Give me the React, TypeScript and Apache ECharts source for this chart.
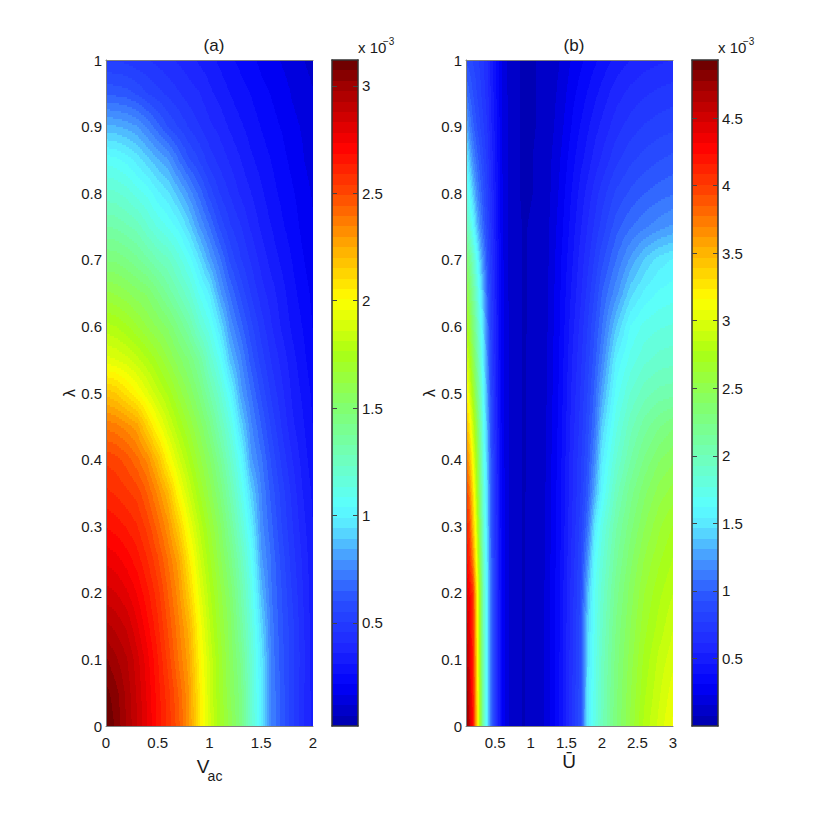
import React, { useEffect, useRef } from "react";
import * as echarts from "echarts";

// ---------- data (values in units of 1e-3) ----------
const lambdaRows = [0, 0.05, 0.1, 0.15, 0.2, 0.25, 0.3, 0.35, 0.4, 0.45, 0.5, 0.55, 0.6, 0.65, 0.7, 0.75, 0.8, 0.85, 0.9, 0.95, 1];
const vacColumns = [0, 0.1, 0.2, 0.3, 0.4, 0.5, 0.6, 0.7, 0.8, 0.9, 1, 1.1, 1.2, 1.3, 1.4, 1.5, 1.6, 1.7, 1.8, 1.9, 2];
const uColumns = [0.09, 0.14, 0.19, 0.24, 0.29, 0.34, 0.39, 0.44, 0.5, 0.6, 0.7, 0.9, 1.2, 1.4, 1.6, 1.7, 1.8, 1.9, 2, 2.2, 2.4, 2.6, 2.8, 3];

const fieldA = [
  [3.12, 3.06, 2.97, 2.88, 2.78, 2.67, 2.57, 2.46, 2.31, 2.08, 1.88, 1.72, 1.6, 1.46, 1.22, 0.98, 0.74, 0.63, 0.52, 0.42, 0.34],
  [3.09, 3.04, 2.96, 2.87, 2.77, 2.66, 2.56, 2.44, 2.3, 2.07, 1.87, 1.71, 1.57, 1.45, 1.21, 0.98, 0.74, 0.63, 0.52, 0.42, 0.34],
  [3.03, 2.98, 2.93, 2.85, 2.75, 2.64, 2.52, 2.39, 2.27, 2.04, 1.86, 1.7, 1.56, 1.42, 1.2, 0.97, 0.73, 0.62, 0.52, 0.43, 0.33],
  [2.94, 2.91, 2.87, 2.79, 2.7, 2.6, 2.48, 2.36, 2.23, 2.0, 1.82, 1.67, 1.54, 1.37, 1.17, 0.93, 0.72, 0.61, 0.52, 0.42, 0.33],
  [2.85, 2.83, 2.79, 2.73, 2.65, 2.56, 2.44, 2.32, 2.15, 1.94, 1.78, 1.64, 1.51, 1.33, 1.13, 0.87, 0.7, 0.6, 0.5, 0.41, 0.33],
  [2.77, 2.75, 2.71, 2.66, 2.59, 2.5, 2.39, 2.27, 2.07, 1.88, 1.73, 1.59, 1.45, 1.28, 1.08, 0.81, 0.69, 0.58, 0.48, 0.4, 0.32],
  [2.68, 2.66, 2.63, 2.59, 2.52, 2.42, 2.31, 2.15, 1.96, 1.81, 1.67, 1.54, 1.38, 1.2, 1.0, 0.77, 0.66, 0.55, 0.46, 0.38, 0.31],
  [2.6, 2.58, 2.55, 2.52, 2.44, 2.33, 2.21, 2.01, 1.86, 1.72, 1.6, 1.47, 1.31, 1.13, 0.92, 0.75, 0.63, 0.53, 0.44, 0.36, 0.3],
  [2.53, 2.51, 2.47, 2.41, 2.33, 2.2, 2.02, 1.88, 1.76, 1.64, 1.53, 1.39, 1.23, 1.05, 0.81, 0.71, 0.59, 0.49, 0.41, 0.34, 0.28],
  [2.38, 2.36, 2.32, 2.27, 2.13, 1.99, 1.87, 1.76, 1.66, 1.56, 1.44, 1.29, 1.14, 0.93, 0.76, 0.65, 0.54, 0.45, 0.37, 0.32, 0.26],
  [2.18, 2.15, 2.08, 2.01, 1.92, 1.83, 1.75, 1.65, 1.56, 1.46, 1.33, 1.2, 1.03, 0.82, 0.7, 0.59, 0.49, 0.42, 0.35, 0.3, 0.25],
  [1.93, 1.91, 1.88, 1.83, 1.77, 1.7, 1.62, 1.54, 1.47, 1.37, 1.22, 1.08, 0.88, 0.76, 0.63, 0.53, 0.45, 0.39, 0.33, 0.28, 0.23],
  [1.78, 1.76, 1.72, 1.67, 1.61, 1.56, 1.51, 1.42, 1.33, 1.2, 1.1, 0.95, 0.78, 0.67, 0.57, 0.48, 0.41, 0.35, 0.3, 0.26, 0.21],
  [1.63, 1.61, 1.58, 1.54, 1.51, 1.44, 1.36, 1.28, 1.2, 1.08, 0.98, 0.81, 0.69, 0.59, 0.5, 0.43, 0.38, 0.33, 0.28, 0.24, 0.2],
  [1.47, 1.46, 1.43, 1.39, 1.34, 1.28, 1.24, 1.16, 1.07, 0.95, 0.82, 0.71, 0.59, 0.51, 0.45, 0.39, 0.34, 0.3, 0.26, 0.22, 0.18],
  [1.33, 1.32, 1.29, 1.26, 1.19, 1.13, 1.08, 1.02, 0.92, 0.8, 0.7, 0.59, 0.51, 0.46, 0.4, 0.35, 0.31, 0.27, 0.24, 0.2, 0.17],
  [1.2, 1.19, 1.16, 1.11, 1.07, 1.0, 0.95, 0.87, 0.78, 0.68, 0.58, 0.5, 0.45, 0.4, 0.36, 0.32, 0.28, 0.25, 0.22, 0.19, 0.16],
  [1.07, 1.05, 1.02, 0.97, 0.91, 0.85, 0.8, 0.7, 0.61, 0.55, 0.48, 0.44, 0.4, 0.36, 0.32, 0.29, 0.26, 0.23, 0.2, 0.17, 0.14],
  [0.86, 0.85, 0.83, 0.8, 0.74, 0.67, 0.6, 0.55, 0.5, 0.46, 0.42, 0.39, 0.35, 0.32, 0.29, 0.26, 0.23, 0.21, 0.18, 0.16, 0.13],
  [0.64, 0.63, 0.62, 0.59, 0.55, 0.52, 0.49, 0.46, 0.43, 0.41, 0.37, 0.34, 0.31, 0.28, 0.26, 0.23, 0.21, 0.19, 0.16, 0.14, 0.12],
  [0.5, 0.5, 0.49, 0.47, 0.46, 0.44, 0.42, 0.4, 0.38, 0.35, 0.33, 0.3, 0.27, 0.25, 0.23, 0.2, 0.18, 0.16, 0.14, 0.12, 0.1],
];

const fieldB = [
  [4.9, 4.55, 4.2, 3.45, 2.65, 1.95, 1.52, 1.1, 0.75, 0.28, 0.14, 0.07, 0.16, 0.38, 0.72, 0.9, 1.5, 1.75, 1.97, 2.3, 2.55, 2.8, 2.95, 3.1],
  [4.85, 4.5, 4.16, 3.42, 2.64, 1.95, 1.52, 1.1, 0.75, 0.28, 0.14, 0.07, 0.16, 0.38, 0.72, 0.9, 1.49, 1.74, 1.96, 2.29, 2.53, 2.76, 2.91, 3.05],
  [4.7, 4.45, 4.12, 3.38, 2.62, 1.95, 1.52, 1.1, 0.75, 0.28, 0.14, 0.07, 0.16, 0.38, 0.71, 0.89, 1.47, 1.72, 1.94, 2.27, 2.5, 2.72, 2.87, 2.98],
  [4.55, 4.38, 4.08, 3.34, 2.61, 1.95, 1.52, 1.1, 0.75, 0.28, 0.14, 0.07, 0.16, 0.37, 0.7, 0.88, 1.42, 1.7, 1.91, 2.24, 2.46, 2.67, 2.8, 2.92],
  [4.45, 4.3, 4.05, 3.3, 2.6, 1.95, 1.52, 1.1, 0.75, 0.28, 0.14, 0.07, 0.16, 0.37, 0.69, 0.86, 1.35, 1.68, 1.88, 2.2, 2.42, 2.62, 2.75, 2.85],
  [4.3, 4.1, 3.7, 3.1, 2.48, 1.88, 1.48, 1.05, 0.72, 0.28, 0.14, 0.07, 0.15, 0.36, 0.67, 0.83, 1.22, 1.63, 1.82, 2.14, 2.36, 2.55, 2.68, 2.78],
  [4.2, 3.95, 3.45, 2.95, 2.37, 1.82, 1.45, 1.02, 0.7, 0.28, 0.14, 0.07, 0.15, 0.35, 0.65, 0.8, 1.08, 1.5, 1.75, 2.07, 2.28, 2.46, 2.6, 2.7],
  [4.05, 3.75, 3.3, 2.8, 2.28, 1.78, 1.42, 1.0, 0.68, 0.28, 0.14, 0.07, 0.15, 0.35, 0.63, 0.77, 0.98, 1.3, 1.6, 1.97, 2.2, 2.37, 2.5, 2.58],
  [3.85, 3.5, 3.1, 2.68, 2.2, 1.72, 1.38, 0.97, 0.66, 0.27, 0.14, 0.07, 0.14, 0.34, 0.62, 0.75, 0.93, 1.18, 1.52, 1.85, 2.08, 2.25, 2.38, 2.45],
  [3.55, 3.25, 2.9, 2.52, 2.1, 1.65, 1.32, 0.93, 0.63, 0.27, 0.14, 0.07, 0.14, 0.33, 0.6, 0.72, 0.89, 1.08, 1.4, 1.75, 1.97, 2.12, 2.22, 2.3],
  [3.25, 3.0, 2.68, 2.33, 1.98, 1.58, 1.25, 0.88, 0.6, 0.26, 0.14, 0.07, 0.13, 0.32, 0.58, 0.7, 0.85, 1.03, 1.27, 1.65, 1.85, 1.97, 2.03, 2.05],
  [3.0, 2.8, 2.5, 2.18, 1.85, 1.5, 1.18, 0.83, 0.58, 0.26, 0.14, 0.07, 0.13, 0.31, 0.56, 0.67, 0.81, 0.97, 1.15, 1.55, 1.72, 1.83, 1.88, 1.9],
  [2.8, 2.6, 2.32, 2.03, 1.72, 1.42, 1.1, 0.8, 0.57, 0.26, 0.14, 0.07, 0.12, 0.3, 0.53, 0.64, 0.77, 0.92, 1.07, 1.38, 1.62, 1.72, 1.76, 1.78],
  [2.6, 2.4, 2.15, 1.88, 1.58, 1.3, 1.0, 0.77, 0.55, 0.25, 0.14, 0.07, 0.12, 0.29, 0.5, 0.6, 0.72, 0.85, 1.0, 1.2, 1.43, 1.56, 1.63, 1.66],
  [2.4, 2.2, 1.95, 1.68, 1.4, 1.16, 0.93, 0.73, 0.53, 0.25, 0.14, 0.07, 0.11, 0.28, 0.47, 0.57, 0.67, 0.78, 0.9, 1.08, 1.25, 1.4, 1.5, 1.55],
  [2.05, 1.86, 1.63, 1.38, 1.18, 1.0, 0.85, 0.68, 0.5, 0.24, 0.13, 0.07, 0.11, 0.26, 0.44, 0.53, 0.62, 0.71, 0.8, 0.97, 1.07, 1.14, 1.2, 1.25],
  [1.8, 1.62, 1.4, 1.2, 1.05, 0.92, 0.79, 0.64, 0.48, 0.24, 0.13, 0.06, 0.1, 0.24, 0.41, 0.49, 0.57, 0.65, 0.73, 0.86, 0.94, 1.0, 1.04, 1.07],
  [1.6, 1.38, 1.18, 1.05, 0.95, 0.84, 0.74, 0.6, 0.46, 0.23, 0.13, 0.06, 0.1, 0.22, 0.37, 0.44, 0.5, 0.57, 0.63, 0.75, 0.83, 0.88, 0.92, 0.95],
  [1.35, 1.15, 1.02, 0.93, 0.85, 0.77, 0.69, 0.56, 0.44, 0.23, 0.13, 0.06, 0.09, 0.19, 0.33, 0.39, 0.45, 0.51, 0.56, 0.66, 0.73, 0.78, 0.81, 0.83],
  [1.1, 1.0, 0.92, 0.85, 0.79, 0.72, 0.65, 0.53, 0.42, 0.22, 0.13, 0.06, 0.09, 0.17, 0.29, 0.34, 0.39, 0.44, 0.49, 0.58, 0.64, 0.68, 0.71, 0.73],
  [0.9, 0.88, 0.84, 0.8, 0.75, 0.69, 0.62, 0.51, 0.4, 0.22, 0.13, 0.06, 0.09, 0.15, 0.25, 0.29, 0.33, 0.37, 0.41, 0.49, 0.54, 0.58, 0.6, 0.62],
];

const colorRangeA = [0.02, 3.12];
const colorRangeB = [0, 4.93];
const colorbarLevels = [
  0, 1, 2, 3, 4, 5, 6, 7, 8, 9, 10, 11, 12, 13, 14, 15, 16, 17, 18, 19, 20, 21, 22, 23, 24, 25, 26, 27, 28, 29, 30, 31,
  32, 33, 34, 35, 36, 37, 38, 39, 40, 41, 42, 43, 44, 45, 46, 47, 48, 49, 50, 51, 52, 53, 54, 55, 56, 57, 58, 59, 60, 61, 62, 63,
];

const lambdaTicks = [0, 0.1, 0.2, 0.3, 0.4, 0.5, 0.6, 0.7, 0.8, 0.9, 1];
const uTicks = [0.5, 1, 1.5, 2, 2.5, 3];
const cbarTicksA = [0.5, 1, 1.5, 2, 2.5, 3];
const cbarTicksB = [0.5, 1, 1.5, 2, 2.5, 3, 3.5, 4, 4.5];

// ---------- colour map of the reference ----------
const mapStops: [number, number, number, number][] = [
  [0, 0, 0, 170], [0.06, 0, 0, 250], [0.12, 30, 40, 255], [0.19, 40, 80, 255], [0.25, 70, 150, 255],
  [0.3, 90, 230, 255], [0.33, 90, 255, 255], [0.4, 110, 255, 190], [0.48, 130, 255, 110], [0.56, 170, 255, 20],
  [0.64, 255, 255, 0], [0.72, 255, 170, 0], [0.8, 255, 70, 0], [0.87, 255, 0, 0], [0.96, 160, 0, 0], [1, 100, 0, 0],
];
const palette = colorbarLevels.map((i) => {
  const t = (i + 0.5) / 64;
  let k = 0;
  while (k < mapStops.length - 2 && t > mapStops[k + 1][0]) k++;
  const a = mapStops[k];
  const b = mapStops[k + 1];
  const f = (t - a[0]) / (b[0] - a[0]);
  const c = [1, 2, 3].map((n) => Math.round(a[n] + (b[n] - a[n]) * f));
  return `rgb(${c[0]},${c[1]},${c[2]})`;
});

const FONT = "'Liberation Sans Narrow', 'Liberation Sans', sans-serif";
const TEXT = "#1a1a1a";
const FRAME = "#808080";
const BAR_FRAME = "#333333";

// shaded rendering of one band of the table between two lambda rows (like pcolor with interpolated shading)
function fieldRenderer(columns: number[], field: number[][], range: number[]) {
  const xMin = columns[0];
  const xMax = columns[columns.length - 1];
  return (_: any, api: any) => {
    const j = api.value(2);
    const pBottom = api.coord([xMin, lambdaRows[j]]);
    const pTop = api.coord([xMax, lambdaRows[j + 1]]);
    const left = Math.round(pBottom[0]);
    const right = Math.round(pTop[0]);
    const bottom = Math.round(pBottom[1]);
    const top = Math.round(pTop[1]);
    const children: any[] = [];
    for (let y = top; y < bottom; y += 2) {
      const h = Math.min(2, bottom - y);
      const tv = (bottom - (y + h / 2)) / (bottom - top);
      let runStart = left;
      let runIdx = -1;
      let c = 0;
      for (let x = left; x <= right; x++) {
        let idx = -2;
        if (x < right) {
          const u = xMin + ((x + 0.5 - left) / (right - left)) * (xMax - xMin);
          while (c < columns.length - 2 && u > columns[c + 1]) c++;
          const tu = (u - columns[c]) / (columns[c + 1] - columns[c]);
          const low = field[j][c] + (field[j][c + 1] - field[j][c]) * tu;
          const high = field[j + 1][c] + (field[j + 1][c + 1] - field[j + 1][c]) * tu;
          const v = low + (high - low) * tv;
          idx = Math.max(0, Math.min(63, Math.floor(((v - range[0]) / (range[1] - range[0])) * 64)));
        }
        if (idx !== runIdx) {
          if (runIdx >= 0) {
            children.push({
              type: "rect",
              silent: true,
              shape: { x: runStart, y, width: x - runStart, height: h },
              style: { fill: palette[runIdx] },
            });
          }
          runStart = x;
          runIdx = idx;
        }
      }
    }
    return { type: "group", children };
  };
}

function colorbarRenderer(range: number[]) {
  return (_: any, api: any) => {
    const i = api.value(2);
    const step = (range[1] - range[0]) / 64;
    const a = api.coord([0, range[0] + i * step]);
    const b = api.coord([1, range[0] + (i + 1) * step]);
    const top = Math.round(b[1]);
    return {
      type: "rect",
      silent: true,
      shape: { x: a[0], y: top, width: b[0] - a[0], height: Math.round(a[1]) - top },
      style: { fill: palette[i] },
    };
  };
}

const labelStyle = { fontFamily: FONT, fontSize: 15, color: TEXT };

function buildOption() {
  const grids: any[] = [];
  const xAxes: any[] = [];
  const yAxes: any[] = [];
  const series: any[] = [];
  const plain = { show: false };

  const addPanel = (left: number, columns: number[], field: number[][], range: number[], xTicks: number[] | null) => {
    const g = grids.length;
    grids.push({ left, top: 60, width: 207, height: 666 });
    const xMin = columns[0];
    const xMax = columns[columns.length - 1];
    const xi = xAxes.length;
    xAxes.push({
      type: "value", gridIndex: g, position: "bottom", min: xMin, max: xMax,
      ...(xTicks ? {} : { interval: 0.5 }),
      z: 5,
      splitLine: plain,
      axisLine: { show: true, onZero: false, lineStyle: { color: FRAME, width: 1 } },
      axisTick: { show: false },
      axisLabel: {
        ...labelStyle, margin: 9, showMinLabel: true, showMaxLabel: true,
        ...(xTicks ? { customValues: xTicks } : {}),
      },
    });
    xAxes.push({
      type: "value", gridIndex: g, position: "top", min: xMin, max: xMax, z: 5,
      splitLine: plain, axisTick: plain, axisLabel: plain,
      axisLine: { show: true, onZero: false, lineStyle: { color: FRAME, width: 1 } },
    });
    const yi = yAxes.length;
    yAxes.push({
      type: "value", gridIndex: g, position: "left", min: 0, max: 1, interval: 0.1, z: 5,
      name: "λ", nameLocation: "middle", nameGap: 27, nameRotate: 90,
      nameTextStyle: { fontFamily: "'Liberation Sans', sans-serif", fontSize: 16, color: TEXT },
      splitLine: plain,
      axisLine: { show: true, onZero: false, lineStyle: { color: FRAME, width: 1 } },
      axisTick: { show: false },
      axisLabel: { ...labelStyle, margin: 4, customValues: lambdaTicks },
    });
    series.push({
      type: "custom", xAxisIndex: xi, yAxisIndex: yi, clip: true, silent: true, z: 2,
      encode: { x: 0, y: 1 },
      data: lambdaRows.slice(0, -1).map((l, j) => [xMin, l, j]),
      renderItem: fieldRenderer(columns, field, range),
    });
  };

  const addColorbar = (left: number, range: number[], ticks: number[]) => {
    const g = grids.length;
    grids.push({ left, top: 60, width: 26, height: 666 });
    const line = { show: true, onZero: false, lineStyle: { color: BAR_FRAME, width: 1.5 } };
    const xi = xAxes.length;
    xAxes.push({
      type: "value", gridIndex: g, position: "bottom", min: 0, max: 1, z: 5,
      splitLine: plain, axisTick: plain, axisLabel: plain, axisLine: line,
    });
    xAxes.push({
      type: "value", gridIndex: g, position: "top", min: 0, max: 1, z: 5,
      splitLine: plain, axisTick: plain, axisLabel: plain, axisLine: line,
    });
    const tick = { show: true, inside: true, length: 5, customValues: ticks, lineStyle: { color: "#444444", width: 1 } };
    const yi = yAxes.length;
    yAxes.push({
      type: "value", gridIndex: g, position: "right", min: range[0], max: range[1], z: 5,
      splitLine: plain, axisLine: line, axisTick: tick,
      axisLabel: { ...labelStyle, margin: 4, customValues: ticks },
    });
    yAxes.push({
      type: "value", gridIndex: g, position: "left", min: range[0], max: range[1], z: 5,
      splitLine: plain, axisLine: line, axisTick: tick, axisLabel: plain,
    });
    series.push({
      type: "custom", xAxisIndex: xi, yAxisIndex: yi, clip: true, silent: true, z: 2,
      encode: { x: 0, y: 1 },
      data: colorbarLevels.map((i) => [0, range[0] + ((i + 0.5) * (range[1] - range[0])) / 64, i]),
      renderItem: colorbarRenderer(range),
    });
  };

  addPanel(106, vacColumns, fieldA, colorRangeA, null);
  addColorbar(332, colorRangeA, cbarTicksA);
  addPanel(466, uColumns, fieldB, colorRangeB, uTicks);
  addColorbar(692, colorRangeB, cbarTicksB);

  const t = (text: string, x: number, y: number, size: number, align = "center") => ({
    type: "text", x, y, silent: true,
    style: { text, fontFamily: FONT, fontSize: size, fill: TEXT, align, verticalAlign: "middle" },
  });

  return {
    animation: false,
    backgroundColor: "#ffffff",
    tooltip: { show: false },
    title: [
      { text: "(a)", left: 209, top: 40, textAlign: "center", textVerticalAlign: "middle", textStyle: { fontFamily: FONT, fontSize: 17, fontWeight: "normal", color: TEXT } },
      { text: "(b)", left: 569, top: 40, textAlign: "center", textVerticalAlign: "middle", textStyle: { fontFamily: FONT, fontSize: 17, fontWeight: "normal", color: TEXT } },
    ],
    grid: grids,
    xAxis: xAxes,
    yAxis: yAxes,
    series,
    graphic: [
      t("x 10", 358, 47, 15, "left"),
      t("−3", 383, 41, 10, "left"),
      t("x 10", 718, 47, 15, "left"),
      t("−3", 743, 41, 10, "left"),
      t("V", 203, 766, 19),
      t("ac", 215, 776, 14),
      t("Ū", 569, 761, 19),
    ],
  };
}

export default function App() {
  const ref = useRef<HTMLDivElement>(null);
  useEffect(() => {
    const chart = echarts.init(ref.current as HTMLDivElement, undefined, { renderer: "svg" });
    chart.setOption(buildOption() as any);
    return () => chart.dispose();
  }, []);
  return <div ref={ref} style={{ position: "absolute", left: 0, top: 0, width: 817, height: 817 }} />;
}
